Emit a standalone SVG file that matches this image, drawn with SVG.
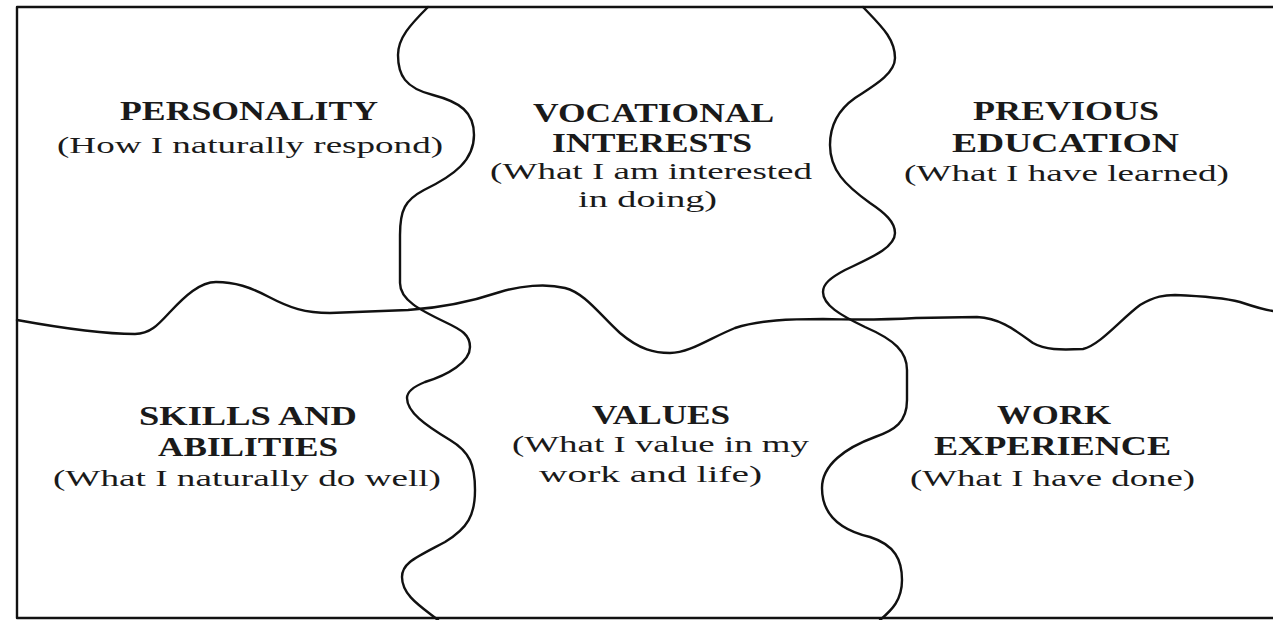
<svg xmlns="http://www.w3.org/2000/svg" width="1273" height="620" viewBox="0 0 1273 620">
<style>
.line{fill:none;stroke:#111;stroke-width:2.4;stroke-linecap:round;stroke-linejoin:round}
.h{font-family:"Liberation Serif","Times New Roman",serif;font-weight:bold;font-size:28px;fill:#1a1a1a}
.s{font-family:"Liberation Serif","Times New Roman",serif;font-size:24px;fill:#1a1a1a}
</style>
<rect width="1273" height="620" fill="#fff"/>
<g id="connectors">
<path class="line" d="M1273,7 L17,7 L17,618 L1273,618"/>
<path class="line" d="M428,7 C410,25 398,38 398,55 C398,75 405,88 433,95 C460,102 474,112 474,135 C474,160 455,175 424,190 C405,200 400,210 400,235 L400,283 C400,300 420,310 445,322 C462,330 470,335 470,347 C470,362 448,375 425,382 C410,388 407,393 407,398 C407,412 425,425 450,440 C470,452 475,465 475,490 C475,515 468,528 445,542 C415,558 402,563 402,577 C402,595 420,606 438,620"/>
<path class="line" d="M17,320 C50,326 100,334 135,334 C150,334 158,325 170,312 C185,296 200,282 216,282 C235,282 250,287 269,297 C290,308 305,313 330,313 L408,310 C440,308 470,302 500,292 C520,286 545,283 565,288 C585,293 600,315 620,333 C640,350 655,353 670,353 C690,353 710,338 735,328 C760,320 790,319 823,319 C860,320 880,320 916,318 L977,317 C1000,318 1015,330 1033,343 C1045,350 1060,350 1083,349 C1100,345 1120,320 1140,305 C1155,296 1165,295 1175,295 C1200,296 1225,298 1240,302 C1255,307 1265,310 1273,311"/>
<path class="line" d="M863,7 C880,25 895,38 895,58 C895,75 870,88 855,98 C838,110 830,125 830,145 C830,170 845,185 870,203 C885,213 895,222 895,233 C895,248 870,258 845,270 C830,278 823,284 823,292 C823,305 840,315 865,327 C895,340 907,352 907,370 L907,400 C907,422 895,430 875,437 C845,448 822,465 822,488 C822,515 840,530 870,537 C895,545 902,560 902,580 C902,600 892,610 880,620"/>
</g>
<g id="personality">
<text class="h" transform="translate(249,120) scale(1.28,1)" x="-100.8" y="0" textLength="201.6" lengthAdjust="spacingAndGlyphs">PERSONALITY</text>
<text class="s" transform="translate(250,153) scale(1.45,1)" x="-133.1" y="0" textLength="266.2" lengthAdjust="spacingAndGlyphs">(How I naturally respond)</text>
</g>
<g id="vocational-interests">
<text class="h" transform="translate(653.5,122) scale(1.28,1)" x="-94.1" y="0" textLength="188.3" lengthAdjust="spacingAndGlyphs">VOCATIONAL</text>
<text class="h" transform="translate(652,152) scale(1.28,1)" x="-78.1" y="0" textLength="156.2" lengthAdjust="spacingAndGlyphs">INTERESTS</text>
<text class="s" transform="translate(651,179) scale(1.45,1)" x="-111" y="0" textLength="222.1" lengthAdjust="spacingAndGlyphs">(What I am interested</text>
<text class="s" transform="translate(647.5,207) scale(1.45,1)" x="-47.9" y="0" textLength="95.9" lengthAdjust="spacingAndGlyphs">in doing)</text>
</g>
<g id="previous-education">
<text class="h" transform="translate(1066,120) scale(1.28,1)" x="-72.7" y="0" textLength="145.3" lengthAdjust="spacingAndGlyphs">PREVIOUS</text>
<text class="h" transform="translate(1065.5,152) scale(1.28,1)" x="-88.7" y="0" textLength="177.3" lengthAdjust="spacingAndGlyphs">EDUCATION</text>
<text class="s" transform="translate(1066.5,181) scale(1.45,1)" x="-112.1" y="0" textLength="224.1" lengthAdjust="spacingAndGlyphs">(What I have learned)</text>
</g>
<g id="skills-abilities">
<text class="h" transform="translate(248,425) scale(1.28,1)" x="-85.2" y="0" textLength="170.3" lengthAdjust="spacingAndGlyphs">SKILLS AND</text>
<text class="h" transform="translate(248,456) scale(1.28,1)" x="-70.3" y="0" textLength="140.6" lengthAdjust="spacingAndGlyphs">ABILITIES</text>
<text class="s" transform="translate(247,486) scale(1.45,1)" x="-133.8" y="0" textLength="267.6" lengthAdjust="spacingAndGlyphs">(What I naturally do well)</text>
</g>
<g id="values">
<text class="h" transform="translate(661,424) scale(1.28,1)" x="-53.9" y="0" textLength="107.8" lengthAdjust="spacingAndGlyphs">VALUES</text>
<text class="s" transform="translate(660.5,452) scale(1.45,1)" x="-102.4" y="0" textLength="204.8" lengthAdjust="spacingAndGlyphs">(What I value in my</text>
<text class="s" transform="translate(650.5,482) scale(1.45,1)" x="-76.9" y="0" textLength="153.8" lengthAdjust="spacingAndGlyphs">work and life)</text>
</g>
<g id="work-experience">
<text class="h" transform="translate(1054,424) scale(1.28,1)" x="-44.5" y="0" textLength="89.1" lengthAdjust="spacingAndGlyphs">WORK</text>
<text class="h" transform="translate(1052.5,455) scale(1.28,1)" x="-92.6" y="0" textLength="185.2" lengthAdjust="spacingAndGlyphs">EXPERIENCE</text>
<text class="s" transform="translate(1052.5,486) scale(1.45,1)" x="-98.3" y="0" textLength="196.6" lengthAdjust="spacingAndGlyphs">(What I have done)</text>
</g>
</svg>
